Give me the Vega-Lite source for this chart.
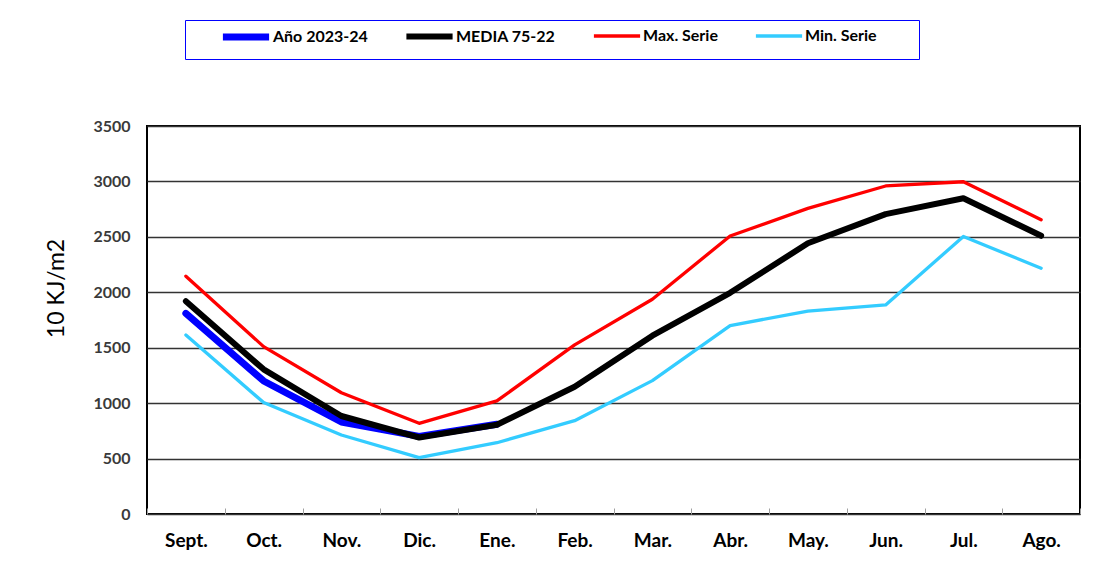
{
  "$schema": "https://vega.github.io/schema/vega-lite/v6.json",
  "width": 933,
  "height": 388,
  "autosize": "none",
  "padding": {"left": 147, "top": 126, "right": 16, "bottom": 51},
  "background": "#ffffff",
  "data": {
    "values": [
      {"mes": "Sept.", "serie": "Año 2023-24", "valor": 1810},
      {"mes": "Oct.", "serie": "Año 2023-24", "valor": 1200},
      {"mes": "Nov.", "serie": "Año 2023-24", "valor": 830},
      {"mes": "Dic.", "serie": "Año 2023-24", "valor": 700},
      {"mes": "Ene.", "serie": "Año 2023-24", "valor": 810},
      {"mes": "Sept.", "serie": "MEDIA 75-22", "valor": 1920},
      {"mes": "Oct.", "serie": "MEDIA 75-22", "valor": 1305},
      {"mes": "Nov.", "serie": "MEDIA 75-22", "valor": 884},
      {"mes": "Dic.", "serie": "MEDIA 75-22", "valor": 690},
      {"mes": "Ene.", "serie": "MEDIA 75-22", "valor": 805},
      {"mes": "Feb.", "serie": "MEDIA 75-22", "valor": 1148},
      {"mes": "Mar.", "serie": "MEDIA 75-22", "valor": 1608},
      {"mes": "Abr.", "serie": "MEDIA 75-22", "valor": 1995},
      {"mes": "May.", "serie": "MEDIA 75-22", "valor": 2442},
      {"mes": "Jun.", "serie": "MEDIA 75-22", "valor": 2705},
      {"mes": "Jul.", "serie": "MEDIA 75-22", "valor": 2848},
      {"mes": "Ago.", "serie": "MEDIA 75-22", "valor": 2510},
      {"mes": "Sept.", "serie": "Max. Serie", "valor": 2145},
      {"mes": "Oct.", "serie": "Max. Serie", "valor": 1510},
      {"mes": "Nov.", "serie": "Max. Serie", "valor": 1094},
      {"mes": "Dic.", "serie": "Max. Serie", "valor": 818},
      {"mes": "Ene.", "serie": "Max. Serie", "valor": 1020},
      {"mes": "Feb.", "serie": "Max. Serie", "valor": 1526},
      {"mes": "Mar.", "serie": "Max. Serie", "valor": 1937},
      {"mes": "Abr.", "serie": "Max. Serie", "valor": 2508},
      {"mes": "May.", "serie": "Max. Serie", "valor": 2757},
      {"mes": "Jun.", "serie": "Max. Serie", "valor": 2959},
      {"mes": "Jul.", "serie": "Max. Serie", "valor": 2997},
      {"mes": "Ago.", "serie": "Max. Serie", "valor": 2655},
      {"mes": "Sept.", "serie": "Min. Serie", "valor": 1615},
      {"mes": "Oct.", "serie": "Min. Serie", "valor": 1005},
      {"mes": "Nov.", "serie": "Min. Serie", "valor": 713},
      {"mes": "Dic.", "serie": "Min. Serie", "valor": 508},
      {"mes": "Ene.", "serie": "Min. Serie", "valor": 643},
      {"mes": "Feb.", "serie": "Min. Serie", "valor": 842},
      {"mes": "Mar.", "serie": "Min. Serie", "valor": 1203},
      {"mes": "Abr.", "serie": "Min. Serie", "valor": 1699},
      {"mes": "May.", "serie": "Min. Serie", "valor": 1831},
      {"mes": "Jun.", "serie": "Min. Serie", "valor": 1886},
      {"mes": "Jul.", "serie": "Min. Serie", "valor": 2503},
      {"mes": "Ago.", "serie": "Min. Serie", "valor": 2217}
    ]
  },
  "mark": {"type": "line", "strokeCap": "round", "strokeJoin": "round"},
  "encoding": {
    "x": {
      "field": "mes",
      "type": "ordinal",
      "sort": ["Sept.", "Oct.", "Nov.", "Dic.", "Ene.", "Feb.", "Mar.", "Abr.", "May.", "Jun.", "Jul.", "Ago."],
      "scale": {"type": "band", "paddingInner": 0, "paddingOuter": 0},
      "axis": {
        "title": null,
        "domain": false,
        "grid": false,
        "labelAngle": 0,
        "labelFont": "Lato",
        "labelFontWeight": "bold",
        "labelFontSize": 19,
        "labelColor": "#000000",
        "labelPadding": 23,
        "tickBand": "extent",
        "ticks": true,
        "tickSize": -6,
        "tickColor": "#a0a0a0",
        "tickWidth": 1
      }
    },
    "y": {
      "field": "valor",
      "type": "quantitative",
      "scale": {"domain": [0, 3500], "nice": false},
      "axis": {
        "title": "10 KJ/m2",
        "titleFont": "Lato",
        "titleFontWeight": "normal",
        "titleFontSize": 23,
        "titleColor": "#000000",
        "titlePadding": 24,
        "titleY": 162,
        "values": [0, 500, 1000, 1500, 2000, 2500, 3000, 3500],
        "format": "d",
        "domain": false,
        "ticks": false,
        "labelFont": "Lato",
        "labelFontWeight": "bold",
        "labelFontSize": 16,
        "labelColor": "#3a3a3a",
        "labelPadding": 17,
        "grid": true,
        "gridColor": "#333333",
        "gridWidth": 1.6,
        "gridOpacity": 1
      }
    },
    "color": {
      "field": "serie",
      "type": "nominal",
      "title": "\u00a0",
      "scale": {
        "domain": ["Año 2023-24", "MEDIA 75-22", "Max. Serie", "Min. Serie"],
        "range": ["#0000ff", "#000000", "#ff0000", "#33ccff"]
      },
      "legend": {
        "orient": "none",
        "legendX": 38,
        "legendY": -106,
        "direction": "horizontal",
        "gridAlign": "none",
        "columnPadding": 9,
        "padding": 8,
        "symbolOffset": 44,
        "symbolType": "M-4.2,0L4.2,0",
        "symbolSize": 121,
        "labelOffset": 18,
        "labelFont": "Lato",
        "labelFontWeight": "bold",
        "labelFontSize": 16,
        "labelColor": "#000000",
        "titleOrient": "right",
        "titlePadding": 34,
        "titleFontSize": 8,
        "strokeColor": "#0000ff",
        "fillColor": "#ffffff"
      }
    },
    "strokeWidth": {
      "field": "serie",
      "type": "nominal",
      "title": "\u00a0",
      "scale": {
        "type": "ordinal",
        "domain": ["Año 2023-24", "MEDIA 75-22", "Max. Serie", "Min. Serie"],
        "range": [7, 6, 3.3, 3.3]
      }
    }
  },
  "config": {
    "view": {"stroke": "#000000", "strokeWidth": 2},
    "font": "Lato"
  }
}
